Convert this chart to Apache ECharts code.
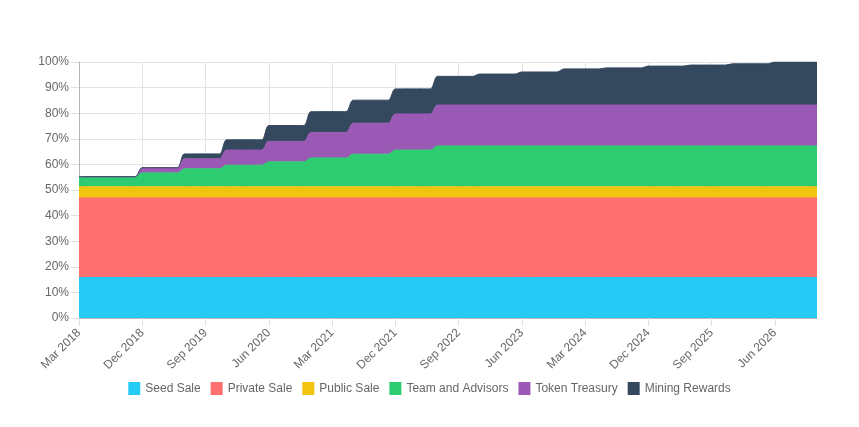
<!DOCTYPE html>
<html>
<head>
<meta charset="utf-8">
<script src="https://cdn.jsdelivr.net/npm/echarts@6/dist/echarts.min.js"></script>
<style>html,body{margin:0;padding:0;background:#fff;}#c{width:859px;height:427px;}</style>
</head>
<body>
<div id="c"></div>
<script>
// Categories: monthly, Mar 2018 .. Dec 2026 (106 points)
const monthNames = ['Jan','Feb','Mar','Apr','May','Jun','Jul','Aug','Sep','Oct','Nov','Dec'];
const categories = [];
for (let y = 2018, m = 2; !(y === 2027 && m === 0); ) {
  categories.push(monthNames[m] + ' ' + y);
  m++; if (m === 12) { m = 0; y++; }
}

const seriesNames = ['Seed Sale','Private Sale','Public Sale','Team and Advisors','Token Treasury','Mining Rewards'];
const seriesColors = ['#26cbf5','#ff6f6f','#f1c40f','#2ecc71','#9b59b6','#34495e'];

// values in % of total supply (per month)
const seedSale = [
15.8,15.8,15.8,15.8,15.8,15.8,15.8,15.8,15.8,
15.8,15.8,15.8,15.8,15.8,15.8, 15.8,15.8,15.8,15.8,15.8,15.8,
15.8,15.8,15.8,15.8,15.8,15.8, 15.8,15.8,15.8,15.8,15.8,15.8,
15.8,15.8,15.8,15.8,15.8,15.8, 15.8,15.8,15.8,15.8,15.8,15.8,
15.8,15.8,15.8,15.8,15.8,15.8, 15.8,15.8,15.8,15.8,15.8,15.8,
15.8,15.8,15.8,15.8,15.8,15.8, 15.8,15.8,15.8,15.8,15.8,15.8,
15.8,15.8,15.8,15.8,15.8,15.8, 15.8,15.8,15.8,15.8,15.8,15.8,
15.8,15.8,15.8,15.8,15.8,15.8, 15.8,15.8,15.8,15.8,15.8,15.8,
15.8,15.8,15.8,15.8,15.8,15.8, 15.8,15.8,15.8,15.8,15.8,15.8,15.8];
const privateSale = [
31.1,31.1,31.1,31.1,31.1,31.1,31.1,31.1,31.1,
31.1,31.1,31.1,31.1,31.1,31.1, 31.1,31.1,31.1,31.1,31.1,31.1,
31.1,31.1,31.1,31.1,31.1,31.1, 31.1,31.1,31.1,31.1,31.1,31.1,
31.1,31.1,31.1,31.1,31.1,31.1, 31.1,31.1,31.1,31.1,31.1,31.1,
31.1,31.1,31.1,31.1,31.1,31.1, 31.1,31.1,31.1,31.1,31.1,31.1,
31.1,31.1,31.1,31.1,31.1,31.1, 31.1,31.1,31.1,31.1,31.1,31.1,
31.1,31.1,31.1,31.1,31.1,31.1, 31.1,31.1,31.1,31.1,31.1,31.1,
31.1,31.1,31.1,31.1,31.1,31.1, 31.1,31.1,31.1,31.1,31.1,31.1,
31.1,31.1,31.1,31.1,31.1,31.1, 31.1,31.1,31.1,31.1,31.1,31.1,31.1];
const publicSale = [
4.4,4.4,4.4,4.4,4.4,4.4,4.4,4.4,4.4,
4.4,4.4,4.4,4.4,4.4,4.4, 4.4,4.4,4.4,4.4,4.4,4.4,
4.4,4.4,4.4,4.4,4.4,4.4, 4.4,4.4,4.4,4.4,4.4,4.4,
4.4,4.4,4.4,4.4,4.4,4.4, 4.4,4.4,4.4,4.4,4.4,4.4,
4.4,4.4,4.4,4.4,4.4,4.4, 4.4,4.4,4.4,4.4,4.4,4.4,
4.4,4.4,4.4,4.4,4.4,4.4, 4.4,4.4,4.4,4.4,4.4,4.4,
4.4,4.4,4.4,4.4,4.4,4.4, 4.4,4.4,4.4,4.4,4.4,4.4,
4.4,4.4,4.4,4.4,4.4,4.4, 4.4,4.4,4.4,4.4,4.4,4.4,
4.4,4.4,4.4,4.4,4.4,4.4, 4.4,4.4,4.4,4.4,4.4,4.4,4.4];
const teamAdvisors = [
3.9,3.9,3.9,3.9,3.9,3.9,3.9,3.9,3.9,
5.4,5.4,5.4,5.4,5.4,5.4, 7.0,7.0,7.0,7.0,7.0,7.0,
8.4,8.4,8.4,8.4,8.4,8.4, 9.7,9.7,9.7,9.7,9.7,9.7,
11.2,11.2,11.2,11.2,11.2,11.2, 12.7,12.7,12.7,12.7,12.7,12.7,
14.3,14.3,14.3,14.3,14.3,14.3, 15.9,15.9,15.9,15.9,15.9,15.9,
15.9,15.9,15.9,15.9,15.9,15.9, 15.9,15.9,15.9,15.9,15.9,15.9,
15.9,15.9,15.9,15.9,15.9,15.9, 15.9,15.9,15.9,15.9,15.9,15.9,
15.9,15.9,15.9,15.9,15.9,15.9, 15.9,15.9,15.9,15.9,15.9,15.9,
15.9,15.9,15.9,15.9,15.9,15.9, 15.9,15.9,15.9,15.9,15.9,15.9,15.9];
const tokenTreasury = [
0,0,0,0,0,0,0,0,0,
2.0,2.0,2.0,2.0,2.0,2.0, 3.9,3.9,3.9,3.9,3.9,3.9,
5.9,5.9,5.9,5.9,5.9,5.9, 8.0,8.0,8.0,8.0,8.0,8.0,
10.0,10.0,10.0,10.0,10.0,10.0, 12.1,12.1,12.1,12.1,12.1,12.1,
14.1,14.1,14.1,14.1,14.1,14.1, 16.0,16.0,16.0,16.0,16.0,16.0,
16.0,16.0,16.0,16.0,16.0,16.0, 16.0,16.0,16.0,16.0,16.0,16.0,
16.0,16.0,16.0,16.0,16.0,16.0, 16.0,16.0,16.0,16.0,16.0,16.0,
16.0,16.0,16.0,16.0,16.0,16.0, 16.0,16.0,16.0,16.0,16.0,16.0,
16.0,16.0,16.0,16.0,16.0,16.0, 16.0,16.0,16.0,16.0,16.0,16.0,16.0];
const miningRewards = [
0,0,0,0,0,0,0,0,0,
0,0,0,0,0,0, 1.9,1.9,1.9,1.9,1.9,1.9,
4.0,4.0,4.0,4.0,4.0,4.0, 6.2,6.2,6.2,6.2,6.2,6.2,
8.1,8.1,8.1,8.1,8.1,8.1, 9.0,9.0,9.0,9.0,9.0,9.0,
9.8,9.8,9.8,9.8,9.8,9.8, 11.2,11.2,11.2,11.2,11.2,11.2,
12.1,12.1,12.1,12.1,12.1,12.1, 12.9,12.9,12.9,12.9,12.9,12.9,
14.1,14.1,14.1,14.1,14.1,14.1, 14.5,14.5,14.5,14.5,14.5,14.5,
15.2,15.2,15.2,15.2,15.2,15.2, 15.6,15.6,15.6,15.6,15.6,15.6,
16.1,16.1,16.1,16.1,16.1,16.1, 16.8,16.8,16.8,16.8,16.8,16.8,16.8];

const seriesData = [seedSale, privateSale, publicSale, teamAdvisors, tokenTreasury, miningRewards];
const yTicks = { min: 0, max: 100, interval: 10 };

const font = 'Arial, "Liberation Sans", Helvetica, sans-serif';
const chart = echarts.init(document.getElementById('c'), null, { renderer: 'canvas' });
chart.setOption({
  animation: false,
  backgroundColor: '#ffffff',
  color: seriesColors,
  grid: { left: 79, right: 42, top: 62, bottom: 109, containLabel: false },
  legend: {
    bottom: 27, left: 'center',
    itemWidth: 12, itemHeight: 13, itemGap: 10,
    icon: 'rect',
    textStyle: { color: '#666', fontSize: 12, fontFamily: font },
    data: seriesNames
  },
  xAxis: {
    type: 'category',
    boundaryGap: false,
    data: categories,
    axisLine: { show: true, lineStyle: { color: '#b5b5b5', width: 1 } },
    axisTick: { show: true, interval: 8, length: 8, lineStyle: { color: '#e0e0e0' } },
    axisLabel: { interval: 8, rotate: 45, margin: 13, color: '#666', fontSize: 12, fontFamily: font },
    splitLine: { show: true, interval: 8, lineStyle: { color: '#e3e3e3', width: 1 } }
  },
  yAxis: {
    type: 'value',
    min: yTicks.min, max: yTicks.max, interval: yTicks.interval,
    axisLine: { show: true, lineStyle: { color: '#b5b5b5', width: 1 } },
    axisTick: { show: true, length: 8, lineStyle: { color: '#e0e0e0' } },
    axisLabel: { formatter: '{value}%', margin: 10, color: '#666', fontSize: 12, fontFamily: font },
    splitLine: { show: true, lineStyle: { color: '#e3e3e3', width: 1 } }
  },
  series: seriesNames.map((name, i) => ({
    name: name,
    type: 'line',
    stack: 'total',
    smooth: 0.35,
    symbol: 'none',
    data: seriesData[i],
    lineStyle: { width: 1, color: seriesColors[i] },
    areaStyle: { color: seriesColors[i], opacity: 1 },
    itemStyle: { color: seriesColors[i] }
  }))
});
</script>
</body>
</html>
